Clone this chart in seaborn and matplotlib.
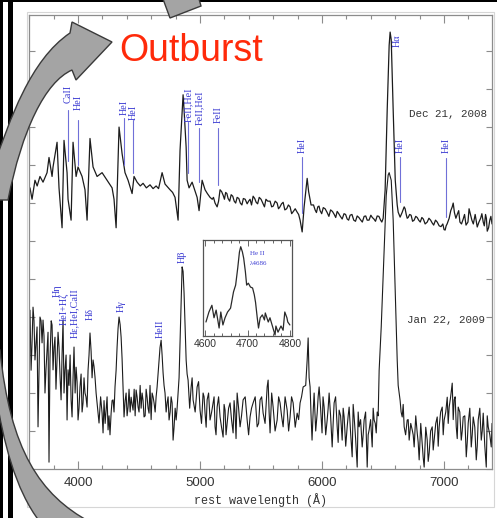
import matplotlib
matplotlib.use("Agg")
import matplotlib.pyplot as plt
from matplotlib.patches import PathPatch, Rectangle, Polygon
from matplotlib.path import Path
from matplotlib.ticker import MultipleLocator
import pandas as pd
import seaborn as sns

# ---------------- spectra (rest wavelength in Angstrom, relative flux + offset) ----------------
dec_wave = [3600, 3606, 3623, 3647, 3665, 3688, 3713, 3746, 3762, 3787, 3795, 3828, 3844, 3869,
            3885, 3910, 3918, 3943, 3959, 3984, 4000, 4033, 4057, 4074, 4098, 4123, 4156, 4197,
            4238, 4279, 4295, 4312, 4336, 4361, 4385, 4410, 4443, 4459, 4484, 4510, 4533, 4560,
            4590, 4615, 4640, 4660, 4689, 4713, 4735, 4754, 4775, 4795, 4820, 4836, 4861, 4869,
            4886, 4894, 4910, 4935, 4976, 4992, 5017, 5041, 5060, 5082, 5100, 5123, 5140, 5164,
            5190, 5210, 5230, 5255, 5280, 5304, 5330, 5355, 5386, 5410, 5435, 5460, 5485, 5517,
            5540, 5574, 5600, 5632, 5655, 5681, 5710, 5738, 5765, 5796, 5820, 5837, 5853, 5878,
            5902, 5920, 5943, 5965, 5984, 6010, 6042, 6070, 6100, 6124, 6150, 6180, 6206, 6230,
            6260, 6288, 6315, 6345, 6370, 6400, 6425, 6452, 6480, 6501, 6517, 6534, 6550, 6558,
            6567, 6583, 6600, 6616, 6624, 6640, 6673, 6690, 6706, 6730, 6755, 6780, 6805, 6830,
            6862, 6890, 6915, 6944, 6975, 7009, 7025, 7042, 7067, 7085, 7108, 7130, 7157, 7180,
            7214, 7240, 7272, 7300, 7321, 7340, 7354, 7375, 7393]
dec_flux = [7.3, 7.4, 7.1, 7.6, 7.45, 7.7, 7.55, 7.8, 8.2, 7.7, 7.95, 8.6, 7.4, 6.35,
            8.65, 7.8, 7.1, 6.55, 8.6, 7.7, 7.95, 7.7, 7.35, 6.55, 8.7, 7.95, 7.7, 7.8,
            7.6, 7.4, 7.1, 6.35, 9.0, 8.3, 7.8, 7.6, 7.25, 7.7, 7.55, 7.45, 7.52, 7.4,
            7.48, 7.38, 7.45, 7.38, 7.8, 7.5, 7.42, 7.35, 7.28, 7.15, 6.55, 8.39, 9.85, 9.45,
            8.47, 7.6, 7.4, 7.55, 7.15, 6.8, 7.6, 7.35, 7.25, 7.15, 7.1, 7.0, 6.9, 7.35,
            7.2, 7.28, 7.12, 7.22, 7.05, 7.15, 7.0, 7.12, 6.98, 7.1, 7.18, 7.02, 7.15, 6.98,
            7.1, 7.05, 6.92, 7.0, 6.9, 7.02, 6.85, 6.9, 6.78, 6.76, 6.55, 6.24, 6.9, 7.65,
            7.08, 6.95, 6.82, 6.9, 6.8, 6.88, 6.75, 6.82, 6.7, 6.78, 6.65, 6.72, 6.58, 6.68,
            6.55, 6.66, 6.56, 6.65, 6.55, 6.68, 6.58, 6.66, 6.55, 6.6, 7.34, 9.45, 11.15, 11.5,
            11.3, 9.45, 7.6, 6.95, 6.76, 6.63, 6.9, 6.7, 6.62, 6.68, 6.55, 6.62, 6.5, 6.58,
            6.5, 6.55, 6.42, 6.5, 6.38, 6.29, 6.45, 6.6, 6.9, 6.75, 6.7, 6.5, 6.58, 6.42,
            6.73, 6.45, 6.37, 6.6, 6.5, 6.7, 6.26, 6.55, 6.45]
# finer continuum samples of the same spectrum
dec_wave_fine = [5110, 5152, 5177, 5200, 5220, 5243, 5268, 5292, 5318, 5343, 5370, 5398, 5422, 5448,
                 5472, 5500, 5528, 5555, 5587, 5616, 5643, 5668, 5695, 5724, 5751, 5780, 5808, 5890,
                 5910, 5930, 5954, 5975, 5997, 6025, 6056, 6085, 6112, 6137, 6165, 6193, 6218, 6245,
                 6274, 6302, 6330, 6358, 6385, 6412, 6438, 6466, 6490, 6656, 6681, 6698, 6718, 6742,
                 6768, 6792, 6818, 6845, 6876, 6902, 6930, 6960, 6990, 7000, 7017, 7055, 7075, 7097,
                 7120, 7143, 7168, 7196, 7205, 7228, 7255, 7286, 7310, 7330, 7347, 7365, 7384]
dec_flux_fine = [7.15, 7.05, 7.3, 7.1, 7.25, 7.05, 7.18, 7.0, 7.12, 6.95, 7.1, 7.05, 6.95, 7.12,
                 6.98, 7.1, 6.9, 7.05, 6.9, 7.05, 6.85, 6.98, 6.82, 6.95, 6.72, 6.85, 6.7, 7.3,
                 6.95, 6.95, 6.75, 6.92, 6.72, 6.85, 6.65, 6.78, 6.62, 6.72, 6.58, 6.7, 6.55, 6.7,
                 6.52, 6.62, 6.5, 6.66, 6.55, 6.62, 6.52, 6.65, 6.5, 6.75, 6.85, 6.6, 6.7, 6.52,
                 6.65, 6.55, 6.62, 6.45, 6.6, 6.48, 6.55, 6.4, 6.45, 6.3, 6.4, 6.8, 7.0, 6.6,
                 6.8, 6.45, 6.7, 6.5, 6.85, 6.55, 6.7, 6.5, 6.72, 6.4, 6.6, 6.35, 6.65]

jan_wave = [3606, 3623, 3631, 3647, 3664, 3672, 3688, 3705, 3713, 3729, 3746, 3762, 3787, 3795,
            3811, 3828, 3844, 3861, 3877, 3893, 3910, 3918, 3943, 3951, 3967, 3984, 4000, 4016,
            4041, 4057, 4074, 4098, 4123, 4139, 4156, 4172, 4197, 4205, 4230, 4246, 4271, 4287,
            4303, 4320, 4336, 4353, 4369, 4377, 4394, 4410, 4435, 4451, 4476, 4492, 4525, 4541,
            4566, 4582, 4607, 4623, 4648, 4664, 4681, 4697, 4713, 4730, 4746, 4771, 4779, 4804,
            4820, 4836, 4853, 4869, 4886, 4902, 4927, 4943, 4976, 5000, 5025, 5041, 5058, 5082,
            5107, 5123, 5140, 5164, 5189, 5205, 5222, 5246, 5271, 5287, 5304, 5328, 5353, 5386,
            5410, 5435, 5468, 5492, 5517, 5550, 5558, 5574, 5599, 5632, 5656, 5681, 5714, 5738,
            5763, 5796, 5820, 5845, 5878, 5886, 5902, 5918, 5935, 5960, 5976, 6000, 6017, 6042,
            6058, 6083, 6099, 6124, 6140, 6165, 6181, 6206, 6222, 6247, 6263, 6288, 6304, 6329,
            6345, 6370, 6386, 6411, 6427, 6444, 6460, 6468, 6485, 6509, 6526, 6542, 6550, 6567,
            6583, 6600, 6616, 6624, 6640, 6657, 6673, 6698, 6714, 6739, 6755, 6780, 6796, 6821,
            6837, 6862, 6878, 6903, 6919, 6944, 6960, 6985, 7001, 7026, 7042, 7067, 7083, 7100,
            7116, 7141, 7157, 7182, 7198, 7223, 7239, 7264, 7280, 7305, 7321, 7346, 7362, 7387]
jan_flux = [4.18, 3.32, 4.26, 2.87, 3.74, 1.11, 4.0, 3.32, 3.92, 2.0, 3.13, 0.18, 3.79, 2.61,
            3.47, 2.87, 3.21, 1.82, 3.92, 2.61, 1.29, 2.61, 1.82, 1.37, 3.21, 2.68, 1.29, 2.16,
            1.74, 2.0, 1.63, 3.58, 2.87, 2.42, 1.74, 1.21, 1.47, 0.95, 1.55, 1.03, 1.47, 1.82,
            2.16, 3.21, 4.0, 3.47, 2.16, 1.37, 2.0, 1.63, 1.89, 1.55, 2.08, 1.63, 2.0, 1.37,
            1.89, 1.47, 2.0, 1.74, 2.16, 2.87, 3.39, 2.53, 2.0, 1.74, 1.29, 1.74, 0.76, 1.29,
            2.0, 3.32, 5.32, 4.63, 2.87, 2.34, 2.16, 1.82, 2.16, 1.55, 2.0, 1.47, 1.82, 1.29,
            1.74, 1.11, 1.63, 1.37, 0.84, 1.55, 1.21, 1.74, 0.95, 1.47, 2.0, 1.11, 1.82, 1.29,
            1.37, 1.74, 1.11, 1.82, 1.47, 2.16, 2.34, 0.95, 1.63, 1.29, 1.74, 1.11, 1.55, 1.37,
            1.74, 1.47, 1.74, 2.16, 2.87, 3.45, 2.16, 0.76, 2.0, 1.47, 2.16, 0.95, 1.63, 1.29,
            2.0, 0.58, 1.74, 1.11, 1.55, 0.76, 1.37, 1.11, 1.63, 0.32, 1.37, 0.05, 1.11, 0.58,
            1.29, 0.05, 1.03, 0.58, 1.29, 0.95, 1.4, 2.6, 3.74, 5.76, 7.2, 7.74, 7.8, 7.6,
            6.55, 4.7, 2.87, 2.2, 1.8, 1.37, 1.11, 1.29, 0.76, 1.03, 0.58, 0.95, 0.24, 0.68,
            0.05, 0.76, 0.42, 1.11, 0.76, 1.37, 1.11, 1.63, 1.29, 1.89, 1.63, 2.26, 1.82, 1.11,
            1.63, 0.76, 1.37, 0.32, 1.21, 0.58, 1.37, 0.24, 1.29, 0.76, 1.47, 0.05, 1.11, 0.58]
# finer samples of the noisy Jan 22 spectrum
jan_wave_fine = [3615, 3639, 3655, 3680, 3697, 3721, 3737, 3754, 3770, 3780, 3803, 3819, 3836, 3853,
                 3869, 3885, 3902, 3926, 3935, 3959, 3976, 3992, 4008, 4025, 4033, 4049, 4065, 4082,
                 4090, 4107, 4115, 4131, 4148, 4164, 4185, 4213, 4222, 4238, 4254, 4262, 4279, 4295,
                 4312, 4328, 4345, 4361, 4386, 4402, 4418, 4427, 4443, 4460, 4468, 4484, 4500, 4509,
                 4517, 4533, 4550, 4558, 4574, 4590, 4599, 4615, 4632, 4640, 4656, 4672, 4689, 4705,
                 4722, 4738, 4755, 4763, 4787, 4796, 4812, 4828, 4845, 4861, 4877, 4894,
                 4915, 4935, 4960, 4988, 5012, 5033, 5050, 5070, 5095, 5115, 5131, 5152, 5176, 5197,
                 5213, 5234, 5258, 5279, 5295, 5316, 5340, 5370, 5398, 5422, 5452, 5480, 5505, 5533,
                 5566, 5587, 5615, 5644, 5668, 5697, 5726, 5750, 5780, 5808, 5832, 5866, 5894, 5910,
                 5927, 5948, 5968, 5988, 6008, 6030, 6050, 6070, 6091, 6111, 6132, 6152, 6173, 6194,
                 6214, 6235, 6255, 6275, 6296, 6316, 6337, 6357, 6378, 6398, 6419, 6436, 6452,
                 6648, 6665, 6685, 6706, 6727, 6747, 6768, 6788, 6809, 6829, 6850, 6870, 6890, 6911,
                 6932, 6952, 6972, 6993, 7014, 7034, 7054, 7075, 7091, 7108, 7129, 7149, 7170, 7190,
                 7211, 7231, 7252, 7272, 7293, 7313, 7334, 7354, 7375, 7393]
jan_flux_fine = [2.6, 3.9, 3.3, 2.5, 3.9, 3.5, 2.6, 3.6, 2.9, 3.9, 3.2, 2.1, 3.6, 2.4,
                 3.0, 2.0, 3.0, 2.2, 3.0, 2.4, 2.0, 2.3, 1.6, 2.5, 1.5, 2.4, 1.9, 2.6,
                 3.0, 3.1, 2.4, 2.7, 2.0, 1.5, 1.9, 1.8, 1.2, 1.9, 1.4, 0.9, 1.8, 1.5,
                 2.6, 3.7, 3.8, 2.9, 1.8, 1.4, 2.1, 1.5, 1.7, 2.1, 1.4, 1.9, 1.5, 2.2,
                 1.6, 1.8, 1.4, 2.1, 1.6, 2.2, 1.3, 1.9, 1.5, 1.9, 2.5, 3.2, 3.0, 2.2,
                 1.5, 1.9, 1.5, 1.9, 1.1, 1.6, 1.6, 2.4, 4.4, 5.2, 3.8, 2.5,
                 1.6, 2.4, 1.5, 2.3, 1.2, 1.9, 1.1, 2.0, 1.5, 1.9, 0.9, 1.9, 1.1, 1.7,
                 0.9, 1.6, 1.3, 1.8, 0.8, 1.6, 1.4, 1.9, 0.9, 1.6, 1.9, 1.2, 1.9, 1.2,
                 1.5, 2.0, 1.0, 1.9, 1.4, 1.9, 1.0, 1.9, 1.1, 1.3, 1.9, 2.2, 2.4, 1.4,
                 1.5, 1.0, 1.9, 1.6, 1.9, 0.9, 1.6, 1.4, 1.2, 1.9, 0.7, 1.4, 1.6, 0.6,
                 1.4, 0.9, 1.7, 0.8, 1.5, 1.3, 0.9, 1.5, 0.9, 1.3, 1.6, 1.2, 1.5,
                 1.5, 1.7, 0.9, 1.3, 1.2, 0.9, 1.4, 0.7, 1.2, 0.3, 1.1, 0.2, 1.0, 0.5,
                 1.2, 0.6, 1.5, 0.9, 1.5, 1.2, 1.9, 1.3, 1.9, 0.8, 1.5, 1.0, 1.4, 0.7,
                 1.6, 0.9, 1.1, 0.6, 1.6, 1.0, 0.6, 1.4, 0.9, 1.2]

# He II 4686 close-up (Jan 22, 2009)
heii_wave = [4602, 4609, 4616, 4621, 4626, 4633, 4637, 4642, 4647, 4653, 4660, 4667, 4672, 4677,
             4681, 4684, 4688, 4691, 4695, 4698, 4702, 4707, 4712, 4716, 4719, 4723, 4726, 4730,
             4735, 4740, 4742, 4749, 4753, 4758, 4765, 4767, 4772, 4779, 4784, 4788, 4793, 4795,
             4800]
heii_flux = [0.146, 0.25, 0.32, 0.19, 0.27, 0.083, 0.25, 0.115, 0.19, 0.25, 0.29, 0.46, 0.53, 0.71,
             0.875, 0.93, 0.875, 0.81, 0.67, 0.53, 0.55, 0.51, 0.5, 0.43, 0.35, 0.19, 0.083, 0.19,
             0.22, 0.167, 0.24, 0.146, 0.19, 0.115, 0.01, 0.104, 0.04, 0.104, 0.06, 0.25, 0.19, 0.146,
             0.115]

# line identifications
dec_line_wave = [3918, 4000, 4377, 4451, 4902, 4992, 5148, 5837, 6640, 7017]
dec_line_name = ["CaII", "HeI", "HeI", "HeI", "FeII,HeI", "FeII,HeI", "FeII", "HeI", "HeI", "HeI"]
jan_line_wave = [3828, 3885, 3975, 4098, 4353, 4672, 4853]
jan_line_name = ["H\u03b7", "HeI+H\u03b6", "H\u03b5,HeI,CaII", "H\u03b4", "H\u03b3", "HeII", "H\u03b2"]

xticks_main = [4000, 5000, 6000, 7000]
xticks_inset = [4600, 4700, 4800]

# layout of the identification marks (flux units)
dec_mark_top = [9.45, 9.18, 9.24, 9.18, 9.13, 8.97, 8.97, 8.21, 8.21, 8.18]
dec_mark_bot = [8.1, 8.0, 8.0, 7.79, 7.79, 7.55, 7.47, 6.74, 7.03, 6.63]
dec_text_base = [9.63, 9.45, 9.32, 9.18, 9.13, 9.05, 9.1, 8.32, 8.32, 8.32]
jan_text_base = [4.53, 3.79, 3.45, 3.92, 4.13, 3.45, 5.42]

sns.set_theme(style="white")
plt.rcParams["font.family"] = ["Liberation Sans", "DejaVu Sans"]

W, H = 497, 518
fig = plt.figure(figsize=(W / 100, H / 100), dpi=100)
fig.patch.set_facecolor("white")

SPEC = "#1c1c1c"
BLUE = "#3a3ad2"
BLUE_LINE = "#7070d8"
GREY_AX = "#8c8c8c"
SERIF = ["Liberation Serif", "DejaVu Serif"]
MONO = ["Liberation Mono", "DejaVu Sans Mono"]

ax = fig.add_axes([29 / W, 1 - 469 / H, 463 / W, 454 / H], zorder=1)
df_dec = pd.DataFrame({"wavelength": dec_wave + dec_wave_fine,
                       "flux": dec_flux + dec_flux_fine}).sort_values("wavelength")
df_jan = pd.DataFrame({"wavelength": jan_wave + jan_wave_fine,
                       "flux": jan_flux + jan_flux_fine}).sort_values("wavelength")
sns.lineplot(data=df_jan, x="wavelength", y="flux", ax=ax, color=SPEC, lw=0.8,
             estimator=None, errorbar=None)
sns.lineplot(data=df_dec, x="wavelength", y="flux", ax=ax, color=SPEC, lw=0.9,
             estimator=None, errorbar=None)

ax.set_xlim(3598, 7393)
ax.set_ylim(0, 11.95)
ax.set_xticks(xticks_main)
ax.set_xticklabels([str(t) for t in xticks_main])
ax.xaxis.set_minor_locator(MultipleLocator(200))
ax.yaxis.set_major_locator(MultipleLocator(1))
ax.tick_params(axis="both", which="both", direction="in", top=True, right=True,
               bottom=True, left=True, color=GREY_AX, width=0.8)
ax.tick_params(axis="x", which="major", length=6, labelsize=9.5, labelcolor="#333333", pad=6)
ax.tick_params(axis="x", which="minor", length=3)
ax.tick_params(axis="y", which="major", length=4, labelleft=False)
for s in ax.spines.values():
    s.set_color(GREY_AX)
    s.set_linewidth(0.9)
ax.set_ylabel("")
ax.set_xlabel("rest wavelength (\u00c5)", family=MONO, fontsize=8.5, color="#333333")
ax.xaxis.set_label_coords(0.5, -31 / 454)
ax.xaxis.label.set_va("center")

# identification marks
for w, name, top, bot, base in zip(dec_line_wave, dec_line_name, dec_mark_top, dec_mark_bot, dec_text_base):
    ax.plot([w, w], [bot, top], color=BLUE_LINE, lw=0.8, zorder=3)
    ax.text(w, base, name, rotation=90, ha="center", va="bottom", color=BLUE,
            family=SERIF, fontsize=7.3)
ax.text(6618, 11.1, "H\u03b1", rotation=90, ha="center", va="bottom", color=BLUE,
        family=SERIF, fontsize=7.3)
for w, name, base in zip(jan_line_wave, jan_line_name, jan_text_base):
    ax.text(w, base, name, rotation=90, ha="center", va="bottom", color=BLUE,
            family=SERIF, fontsize=7.3)

ax.text(7354, 9.34, "Dec 21, 2008", ha="right", va="center", family=MONO,
        fontsize=7.8, color="#333333")
ax.text(7337, 3.92, "Jan 22, 2009", ha="right", va="center", family=MONO,
        fontsize=7.8, color="#333333")

# He II close-up
axin = fig.add_axes([203 / W, 1 - 336 / H, 89 / W, 96 / H], zorder=2)
axin.set_facecolor("white")
df_heii = pd.DataFrame({"wavelength": heii_wave, "flux": heii_flux})
sns.lineplot(data=df_heii, x="wavelength", y="flux", ax=axin, color="#2a2a2a", lw=0.9,
             estimator=None, errorbar=None)
axin.set_xlim(4595, 4805)
axin.set_ylim(0, 1.0)
axin.set_xticks(xticks_inset)
axin.set_xticklabels([str(t) for t in xticks_inset])
axin.xaxis.set_minor_locator(MultipleLocator(20))
axin.set_yticks([])
axin.set_xlabel("")
axin.set_ylabel("")
axin.tick_params(axis="x", which="both", direction="in", top=True, bottom=True,
                 color="#666666", width=0.7)
axin.tick_params(axis="x", which="major", length=4, labelsize=7.5, labelcolor="#333333", pad=2)
axin.tick_params(axis="x", which="minor", length=2.5)
for s in axin.spines.values():
    s.set_color("#555555")
    s.set_linewidth(0.9)
axin.text(4706, 0.86, "He II", ha="left", va="center", color=BLUE, family=SERIF, fontsize=5)
axin.text(4706, 0.76, "\u03bb4686", ha="left", va="center", color=BLUE, family=SERIF, fontsize=5)

# slide decorations: border bars, frame, cycle arrows, caption
ov = fig.add_axes([0, 0, 1, 1], zorder=10)
ov.set_xlim(0, W)
ov.set_ylim(H, 0)
ov.axis("off")
ov.patch.set_alpha(0)

ov.add_patch(Rectangle((27, 12), 467, 495, fill=False, ec="#d6d6d6", lw=0.8, zorder=1))
ov.add_patch(Rectangle((0, 0), 3, H, color="black", lw=0, zorder=2))
ov.add_patch(Rectangle((8, 0), 5, H, color="black", lw=0, zorder=2))
ov.add_patch(Rectangle((0, 0), W, 2, color="black", lw=0, zorder=2))

ARROW_FILL = "#a4a4a4"
ARROW_EDGE = "#3a3a3a"

up_verts = [(-6, 165), (10, 120), (30, 60), (70, 33),
            (72, 22), (112, 42), (76, 80), (72, 70),
            (45, 82), (22, 130), (8, 200),
            (-6, 200), (-6, 165)]
up_codes = [Path.MOVETO, Path.CURVE4, Path.CURVE4, Path.CURVE4,
            Path.LINETO, Path.LINETO, Path.LINETO, Path.LINETO,
            Path.CURVE4, Path.CURVE4, Path.CURVE4,
            Path.LINETO, Path.CLOSEPOLY]
ov.add_patch(PathPatch(Path(up_verts, up_codes), fc=ARROW_FILL, ec=ARROW_EDGE, lw=1.0, zorder=3))

low_verts = [(-4, 395), (3, 440), (15, 490), (40, 522),
             (90, 522),
             (40, 495), (10, 450), (0, 350),
             (-4, 350), (-4, 395)]
low_codes = [Path.MOVETO, Path.CURVE4, Path.CURVE4, Path.CURVE4,
             Path.LINETO,
             Path.CURVE4, Path.CURVE4, Path.CURVE4,
             Path.LINETO, Path.CLOSEPOLY]
ov.add_patch(PathPatch(Path(low_verts, low_codes), fc=ARROW_FILL, ec=ARROW_EDGE, lw=1.0, zorder=3))

ov.add_patch(Polygon([(163, -1), (170, 18), (201, 6), (199, -1)], closed=True,
                     fc=ARROW_FILL, ec=ARROW_EDGE, lw=1.0, zorder=3))

ov.text(119, 61, "Outburst", ha="left", va="baseline", color="#ff2a0a",
        family=["Liberation Sans", "DejaVu Sans"], fontsize=27, zorder=4)

fig.savefig("out.png", dpi=100, facecolor="white")
